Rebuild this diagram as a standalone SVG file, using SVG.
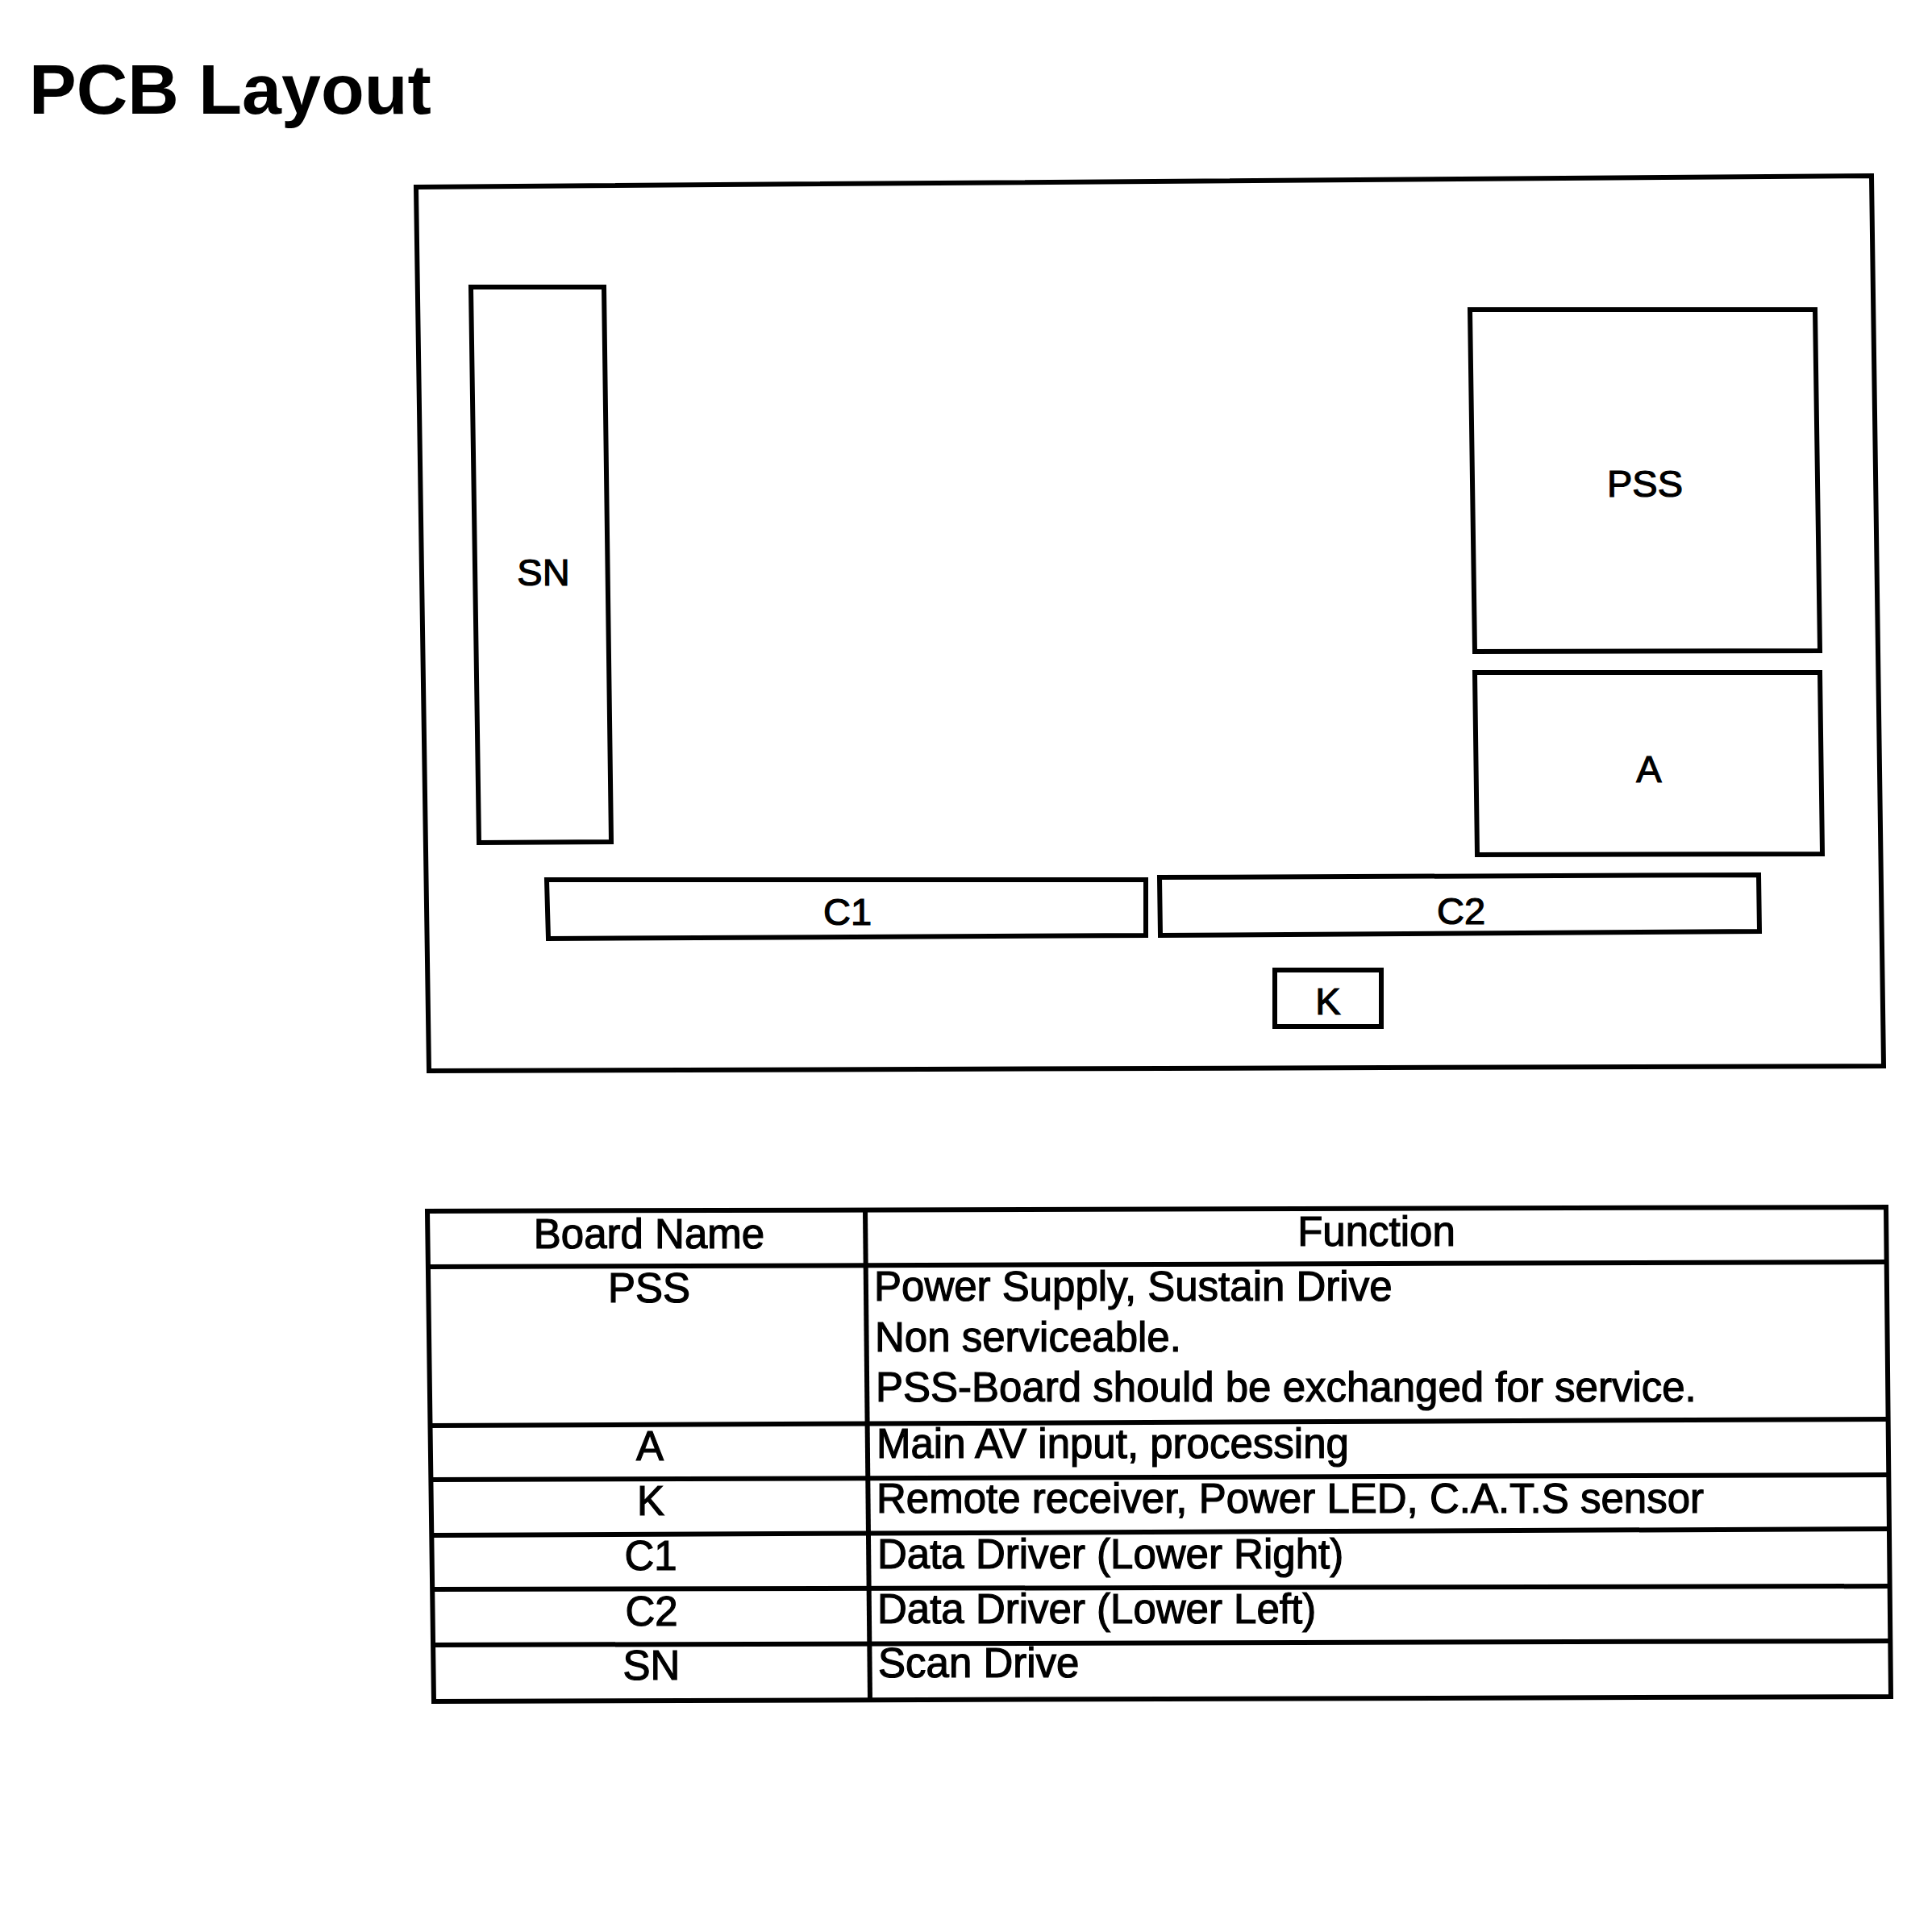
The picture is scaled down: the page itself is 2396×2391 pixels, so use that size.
<svg xmlns="http://www.w3.org/2000/svg" width="2396" height="2391" viewBox="0 0 2396 2391">
<style>
.ln{fill:none;stroke:#000;stroke-width:6;stroke-linejoin:miter}
.lbl{font-family:"Liberation Sans",Arial,sans-serif;font-size:47px;fill:#000;stroke:#000;stroke-width:1.2;text-anchor:middle}
.tx{font-family:"Liberation Sans",Arial,sans-serif;font-size:51px;fill:#000;stroke:#000;stroke-width:1.2}
.c{text-anchor:middle}
.title{font-family:"Liberation Sans",Arial,sans-serif;font-size:88px;font-weight:bold;fill:#000}
</style>
<rect width="2396" height="2391" fill="#fff"/>
<text class="title" x="36" y="141">PCB Layout</text>

<g id="frame">
<polygon class="ln" points="516,232 2321,218 2336,1322 532,1328"/>
</g>
<g id="SN">
<polygon class="ln" points="584,356 749,356 758,1044 594,1045"/>
<text class="lbl" x="674" y="726">SN</text>
</g>
<g id="PSS">
<polygon class="ln" points="1823,384 2251,384 2257,807 1829,808"/>
<text class="lbl" x="2040" y="616">PSS</text>
</g>
<g id="A">
<polygon class="ln" points="1829,834 2257,834 2260,1059 1832,1060"/>
<text class="lbl" x="2045" y="970">A</text>
</g>
<g id="C1">
<polygon class="ln" points="678,1091 1421,1091 1421,1160 680,1164"/>
<text class="lbl" x="1051" y="1147">C1</text>
</g>
<g id="C2">
<polygon class="ln" points="1438,1088 2181,1085 2182,1155 1439,1160"/>
<text class="lbl" x="1812" y="1146">C2</text>
</g>
<g id="K">
<polygon class="ln" points="1581,1203 1713,1203 1713,1273 1581,1273"/>
<text class="lbl" x="1647" y="1258">K</text>
</g>
<g id="connectors"></g>

<g id="table">
<polygon class="ln" points="530,1502 2339,1497 2345,2104 538,2110"/>
<line class="ln" x1="1073" y1="1501" x2="1079" y2="2108"/>
<line class="ln" x1="531" y1="1571" x2="2340" y2="1565"/>
<line class="ln" x1="533" y1="1768" x2="2342" y2="1760"/>
<line class="ln" x1="534" y1="1835" x2="2342" y2="1829"/>
<line class="ln" x1="535" y1="1904" x2="2343" y2="1896"/>
<line class="ln" x1="536" y1="1971" x2="2344" y2="1967"/>
<line class="ln" x1="537" y1="2040" x2="2344" y2="2035"/>
<text class="tx c" x="805" y="1548">Board Name</text>
<text class="tx c" x="1707" y="1545">Function</text>
<text class="tx c" x="805" y="1615">PSS</text>
<text class="tx" x="1084" y="1613">Power Supply, Sustain Drive</text>
<text class="tx" x="1085" y="1676">Non serviceable.</text>
<text class="tx" x="1086" y="1738">PSS-Board should be exchanged for service.</text>
<text class="tx c" x="806" y="1811">A</text>
<text class="tx" x="1087" y="1808">Main AV input, processing</text>
<text class="tx c" x="807" y="1879">K</text>
<text class="tx" x="1087" y="1876">Remote receiver, Power LED, C.A.T.S sensor</text>
<text class="tx c" x="807" y="1947">C1</text>
<text class="tx" x="1088" y="1945">Data Driver (Lower Right)</text>
<text class="tx c" x="808" y="2016">C2</text>
<text class="tx" x="1088" y="2013">Data Driver (Lower Left)</text>
<text class="tx c" x="808" y="2083">SN</text>
<text class="tx" x="1089" y="2080">Scan Drive</text>
</g>
</svg>
